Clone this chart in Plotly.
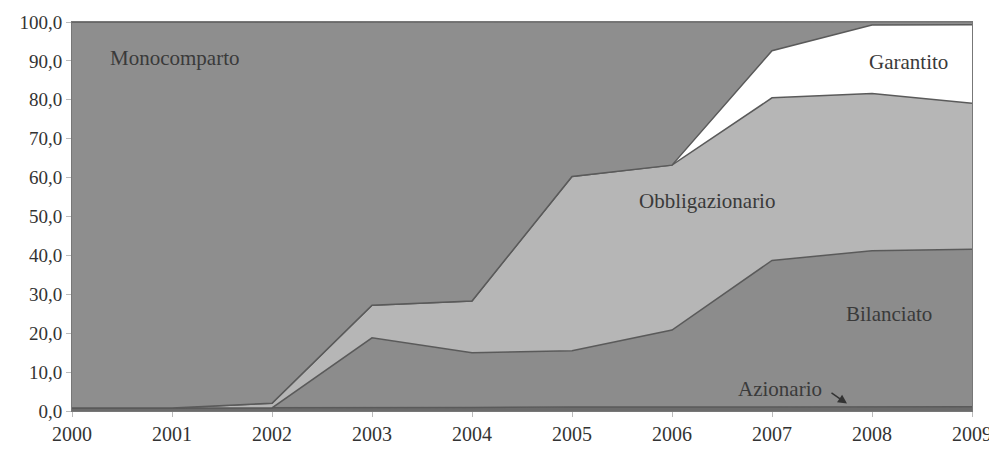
import plotly.graph_objects as go

years = [2000, 2001, 2002, 2003, 2004, 2005, 2006, 2007, 2008, 2009]
azionario = [0.8, 0.8, 0.8, 0.9, 0.9, 1.0, 1.0, 1.1, 1.1, 1.1]
bilanciato = [0.0, 0.0, 0.0, 17.9, 14.1, 14.5, 19.8, 37.6, 40.1, 40.5]
obbligazionario = [0.0, 0.0, 1.2, 8.4, 13.3, 44.8, 42.4, 41.8, 40.4, 37.5]
garantito = [0.0, 0.0, 0.0, 0.0, 0.0, 0.0, 0.0, 12.1, 17.6, 20.2]
monocomparto = [99.2, 99.2, 98.0, 72.8, 71.7, 39.7, 36.8, 7.5, 0.8, 0.8]

series = [
    ("Azionario", azionario, "#6b6b6b"),
    ("Bilanciato", bilanciato, "#8c8c8c"),
    ("Obbligazionario", obbligazionario, "#b6b6b6"),
    ("Garantito", garantito, "#ffffff"),
    ("Monocomparto", monocomparto, "#8e8e8e"),
]

fig = go.Figure()
for name, vals, col in series:
    fig.add_trace(go.Scatter(
        x=years, y=vals, name=name, mode="lines", stackgroup="one",
        fillcolor=col, line=dict(color="#5a5a5a", width=1.5),
    ))

font_family = "Liberation Serif"
label_font = dict(family=font_family, size=21, color="#3a3a3a")
labels = [
    ("Monocomparto", 2001.02, 90.7),
    ("Garantito", 2008.36, 89.6),
    ("Obbligazionario", 2006.35, 53.9),
    ("Bilanciato", 2008.17, 24.9),
    ("Azionario", 2007.08, 5.6),
]
for txt, x, y in labels:
    fig.add_annotation(x=x, y=y, text=txt, showarrow=False, font=label_font)

fig.add_annotation(x=2007.75, y=1.9, ax=2007.58, ay=4.9, xref="x", yref="y",
                   axref="x", ayref="y", text="", showarrow=True,
                   arrowhead=2, arrowsize=1.2, arrowwidth=1.5, arrowcolor="#333333")

fig.update_layout(
    width=989, height=436,
    margin=dict(l=64, r=25, t=14, b=33),
    paper_bgcolor="white", plot_bgcolor="white",
    showlegend=False,
    separators=",.",
    font=dict(family=font_family, color="#333333"),
)
fig.update_xaxes(
    range=[2000, 2009], tickmode="array", tickvals=years,
    ticktext=[str(y) for y in years], automargin=False,
    showgrid=False, zeroline=False, showline=True, linecolor="#777777",
    mirror=True, ticks="outside", ticklen=5, tickcolor="#bbbbbb",
    tickfont=dict(family=font_family, size=20, color="#333333"),
)
fig.update_yaxes(
    range=[0, 100], dtick=10, tickformat=".1f", automargin=False,
    showgrid=False, zeroline=False, showline=True, linecolor="#777777",
    mirror=True, ticks="outside", ticklen=5, tickcolor="#bbbbbb",
    tickfont=dict(family=font_family, size=19, color="#333333"),
)

fig.write_html("out.html")
